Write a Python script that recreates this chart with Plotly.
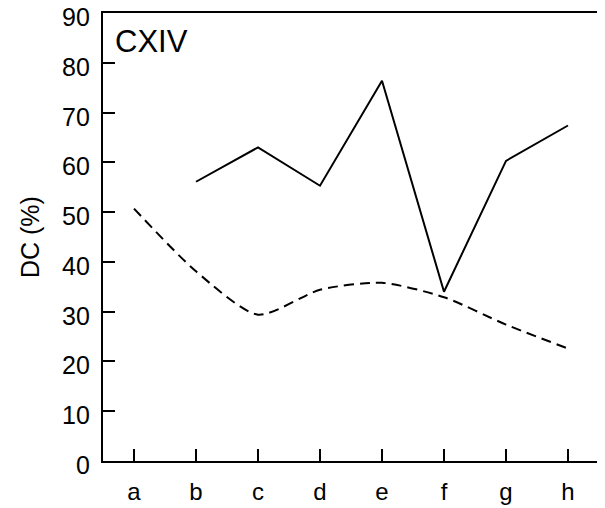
import plotly.graph_objects as go

categories = ["a", "b", "c", "d", "e", "f", "g", "h"]
solid_values = [None, 56.1, 63.0, 55.3, 76.4, 34.0, 60.3, 67.4]
dashed_values = [50.7, 38.1, 29.4, 34.4, 35.8, 32.9, 27.4, 22.6]
y_ticks = [0, 10, 20, 30, 40, 50, 60, 70, 80, 90]

FONT = "Liberation Sans, Arial, Helvetica, sans-serif"
idx = list(range(len(categories)))

fig = go.Figure()
fig.add_trace(go.Scatter(x=idx, y=solid_values, mode="lines",
                         line=dict(color="black", width=2), connectgaps=False))
fig.add_trace(go.Scatter(x=idx, y=dashed_values, mode="lines",
                         line=dict(color="black", width=2, dash="10px,6px",
                                   shape="spline", smoothing=0.7)))

# y tick labels sit slightly below their ticks in the reference
tick_annotations = [
    dict(text=str(v), xref="paper", yref="y", x=0, y=v, xanchor="right",
         yanchor="middle", xshift=-11, yshift=-4, showarrow=False,
         font=dict(family=FONT, size=25, color="black"))
    for v in y_ticks
]

fig.update_layout(
    width=605, height=508,
    margin=dict(l=95, r=14, t=5, b=55),
    paper_bgcolor="white", plot_bgcolor="white",
    showlegend=False,
    font=dict(family=FONT, size=24, color="black"),
    xaxis=dict(range=[-0.5, 7.5], tickmode="array", tickvals=idx, ticktext=categories,
               ticks="inside", ticklen=12, tickwidth=2, tickcolor="black",
               showline=True, linecolor="black", linewidth=2, mirror=True,
               showgrid=False, zeroline=False, ticklabelstandoff=8,
               automargin=False, ticklabeloverflow="allow",
               tickfont=dict(family=FONT, size=24, color="black")),
    yaxis=dict(range=[0, 90], tickmode="array", tickvals=y_ticks,
               showticklabels=False,
               ticks="inside", ticklen=12, tickwidth=2, tickcolor="black",
               showline=True, linecolor="black", linewidth=2, mirror=True,
               showgrid=False, zeroline=False,
               automargin=False),
    annotations=tick_annotations + [
        dict(text="CXIV", xref="paper", yref="paper", x=0.02, y=0.981,
             xanchor="left", yanchor="top", showarrow=False,
             font=dict(family=FONT, size=31, color="black")),
        dict(text="DC (%)", xref="paper", yref="paper", x=-0.147, y=0.5,
             xanchor="center", yanchor="middle", textangle=-90, showarrow=False,
             font=dict(family=FONT, size=25, color="black")),
    ],
)

fig.write_html("out.html")
